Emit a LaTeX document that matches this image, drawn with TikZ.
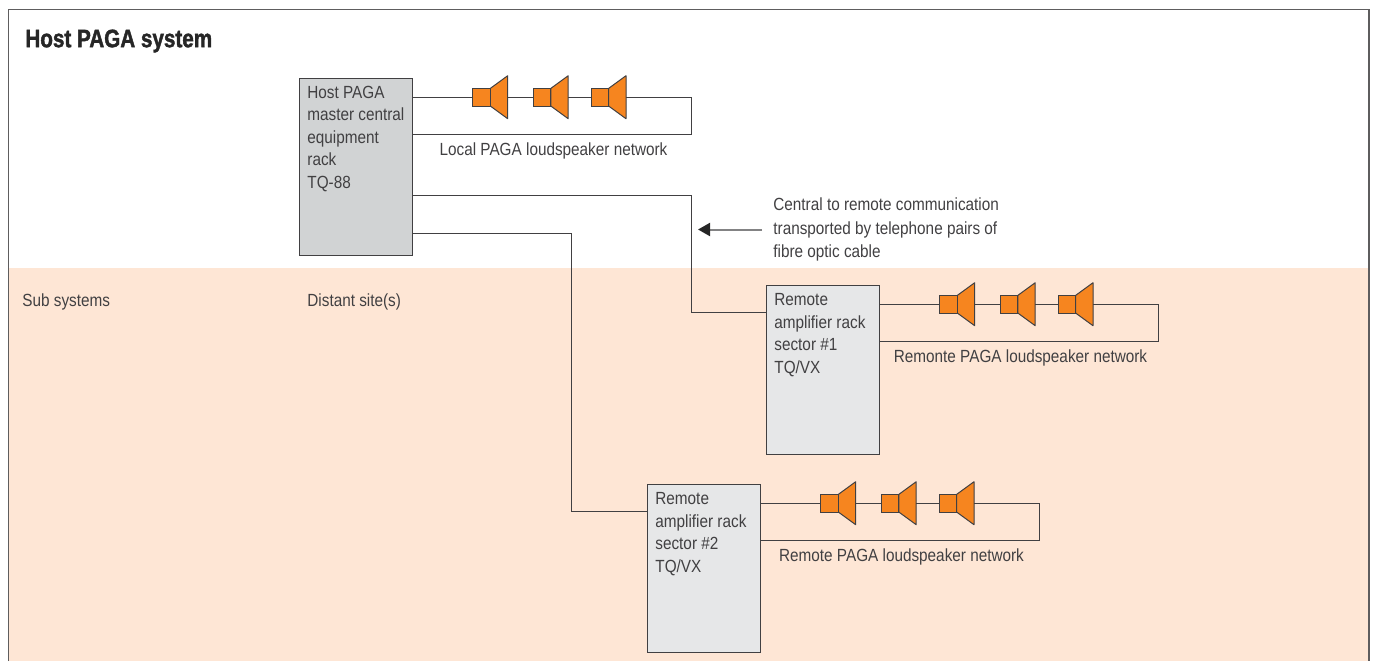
\documentclass[tikz,border=0pt]{standalone}
\usepackage{fontspec}
\setmainfont[FakeStretch=0.87]{Liberation Sans}
\newfontfamily\titlefont[BoldFeatures={FakeStretch=0.82,FakeBold=1.6}]{Liberation Sans}
\usetikzlibrary{arrows.meta,calc}
\definecolor{rackFill}{HTML}{D1D3D4}
\definecolor{ampFill}{HTML}{E6E7E8}
\definecolor{siteFill}{HTML}{FEE6D5}
\definecolor{spkFill}{HTML}{F6851F}
\definecolor{lineDraw}{HTML}{414042}
\tikzset{
  rack/.style    ={draw=lineDraw, line width=0.7pt, fill=rackFill, anchor=north west, inner sep=0pt, minimum width=56.5pt},
  amp/.style     ={rack, fill=ampFill},
  label/.style   ={anchor=north west, inner sep=0pt, align=left, text=lineDraw, font=\fontsize{8.8}{11.25}\selectfont},
  note/.style    ={label, anchor=west, inner xsep=5.5pt, font=\fontsize{8.8}{11.7}\selectfont},
  netname/.style ={label, anchor=center},
  title/.style   ={anchor=west, inner sep=0pt, text=black!85, font=\titlefont\fontsize{12.6}{14}\bfseries\selectfont},
  wire/.style    ={draw=lineDraw, line width=0.6pt},
  arr/.style     ={-{Triangle[length=6pt,width=6.5pt,color=black!85,fill=black!85]}, draw=lineDraw!65, line width=1pt},
  spkbox/.style  ={draw=lineDraw, line width=0.5pt, fill=spkFill, inner sep=0pt, minimum size=8.8pt},
  spkcone/.style ={draw=lineDraw, line width=0.5pt, fill=spkFill, line join=round},
  speaker/.pic   ={
    \draw[spkcone] (8.8,-8.8) -- (26.2,-21.5) -- (26.2,21.5) -- (8.8,8.8) -- cycle;
    \node[spkbox] (-box) at (0,0) {};
    \coordinate (-tip) at (26.2,0);
  },
}
\begin{document}
\begin{tikzpicture}[x=0.5pt,y=-0.5pt]
  \useasboundingbox (0,0) rectangle (1376,661);
  % background band and frame, open at the bottom
  \fill[siteFill] (9,268) rectangle (1369,661);
  \draw[wire, draw=lineDraw!85] (8.5,661) -- (8.5,9.5) -- (1369,9.5) -- (1369,661);

  \node[title] (head) at (25,41) {Host PAGA system};
  \node[label] (subs) at (22,293) {Sub systems};
  \node[label] (dist) at (307,293) {Distant site(s)};

  % the three racks
  \node[rack, minimum height=88.5pt] (host) at (299,78) {};
  \node[amp,  minimum height=84.5pt] (ampA) at (766,285) {};
  \node[amp,  minimum height=84pt]   (ampB) at (647,484) {};
  \node[label] (hostText) at (307,85.5) {Host PAGA\\master central\\equipment\\rack\\TQ-88};
  \node[label] (ampAText) at (774,293) {Remote\\amplifier rack\\sector \#1\\TQ/VX};
  \node[label] (ampBText) at (655,492) {Remote\\amplifier rack\\sector \#2\\TQ/VX};

  % one loudspeaker row per rack, same layout shifted
  \foreach \r/\dx/\dy/\t in {host/0/0/Local PAGA loudspeaker network,
                             ampA/467/207/Remonte PAGA loudspeaker network,
                             ampB/348/406/Remote PAGA loudspeaker network} {
    \begin{scope}[shift={(\dx,\dy)}]
      \foreach \s/\x in {a/481.5, b/542, c/599.8}
        \pic (\r-\s) at (\x,97.2) {speaker};
      \coordinate (\r-end) at (691.5,134.5);
      \node[netname] (\r-name) at (553.5,150.5) {\t};
    \end{scope}
    \draw[wire] (\r-a-box.west -| \r.east) -- (\r-a-box.west);
    \draw[wire] (\r-a-tip) -- (\r-b-box.west);
    \draw[wire] (\r-b-tip) -- (\r-c-box.west);
    \draw[wire] (\r-c-tip) -- (\r-c-tip -| \r-end) -- (\r-end) -- (\r-end -| \r.east);
  }

  % links from the host rack to the remote racks
  \coordinate (hostA) at (412,195.5);
  \coordinate (hostB) at (412,233.5);
  \coordinate (ampAIn) at (766,312.5);
  \coordinate (ampBIn) at (647,511.5);
  \draw[wire] (hostA) -- (691.5,195.5) |- (ampAIn);
  \draw[wire] (hostB) -- (571.5,233.5) |- (ampBIn);

  % annotation
  \node[note] (link) at (762,229.5) {Central to remote communication\\transported by telephone pairs of\\fibre optic cable};
  \coordinate (linkTip) at (698,229.5);
  \draw[arr] (link.west) -- (linkTip);
\end{tikzpicture}
\end{document}
